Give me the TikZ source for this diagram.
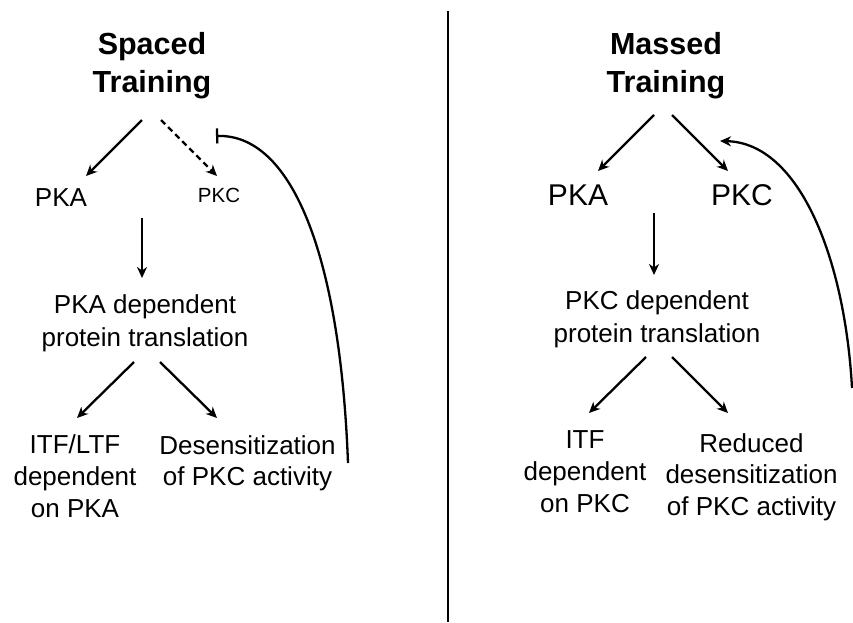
\documentclass[tikz,border=0pt]{standalone}
\usepackage{fontspec}
\setmainfont{Liberation Sans}
\usetikzlibrary{arrows.meta}
\tikzset{
  arr/.style={line width=2.3pt,-{Stealth[length=11pt,width=10pt,inset=3.5pt]}},
  teearr/.style={line width=2.3pt,-{Bar[width=15pt,line width=2.3pt]}},
  title/.style={anchor=base,align=center,inner sep=0pt,font=\fontsize{30.5}{38}\bfseries\selectfont},
  txt/.style={anchor=base,align=center,inner sep=0pt,font=\fontsize{26}{32}\selectfont},
  big/.style={anchor=base,align=center,inner sep=0pt,font=\fontsize{30}{36}\selectfont},
  small/.style={anchor=base,align=center,inner sep=0pt,font=\fontsize{20.5}{25}\selectfont},
}
\begin{document}
\begin{tikzpicture}[x=1pt,y=-1pt]
\useasboundingbox (0,0) rectangle (853,622);
% divider
\draw[line width=2.6pt] (448,11) coordinate (dtop) -- (448,622) coordinate (dbot);

% ---------- left panel ----------
\node[title] (sT) at (152,92) {Spaced\\Training};
\node[txt] (sPKA) at (61,206) {PKA};
\node[small] (sPKC) at (219,202) {PKC};
\node[txt,font=\fontsize{26}{33}\selectfont] (sDep) at (145,346) {PKA dependent\\protein translation};
\node[txt] (sITF) at (75,517) {ITF/LTF\\dependent\\on PKA};
\node[txt,font=\fontsize{26}{31}\selectfont] (sDes) at (247.5,485) {Desensitization\\of PKC activity};

\coordinate (s1a) at (142,120); \coordinate (s1b) at (86,176);
\coordinate (s2a) at (161,120); \coordinate (s2b) at (217,176);
\coordinate (s3a) at (142,218); \coordinate (s3b) at (142,278);
\coordinate (s4a) at (134,362); \coordinate (s4b) at (77,418);
\coordinate (s5a) at (160,362); \coordinate (s5b) at (217,418);
\coordinate (sCa) at (348,463); \coordinate (sCb) at (216,136);

\draw[arr] (s1a) -- (s1b);
\draw[arr,dash pattern=on 6pt off 4pt] (s2a) -- (s2b);
\draw[arr] (s3a) -- (s3b);
\draw[arr] (s4a) -- (s4b);
\draw[arr] (s5a) -- (s5b);
\draw[teearr] (sCa) .. controls (340,250) and (290,134) .. (sCb);

% ---------- right panel ----------
\node[title] (mT) at (666,92) {Massed\\Training};
\node[big] (mPKA) at (578,205) {PKA};
\node[big] (mPKC) at (742,205) {PKC};
\node[txt,font=\fontsize{26}{33}\selectfont] (mDep) at (657,342) {PKC dependent\\protein translation};
\node[txt] (mITF) at (585,512) {ITF\\dependent\\on PKC};
\node[txt,font=\fontsize{26}{31.5}\selectfont] (mRed) at (751.5,515) {Reduced\\desensitization\\of PKC activity};

\coordinate (m1a) at (654,115); \coordinate (m1b) at (598,171);
\coordinate (m2a) at (672,115); \coordinate (m2b) at (728,171);
\coordinate (m3a) at (654,213); \coordinate (m3b) at (654,275);
\coordinate (m4a) at (646,357); \coordinate (m4b) at (589,413);
\coordinate (m5a) at (672,357); \coordinate (m5b) at (728,413);
\coordinate (mCa) at (852,388); \coordinate (mCb) at (720,141);

\draw[arr] (m1a) -- (m1b);
\draw[arr] (m2a) -- (m2b);
\draw[arr] (m3a) -- (m3b);
\draw[arr] (m4a) -- (m4b);
\draw[arr] (m5a) -- (m5b);
\draw[arr] (mCa) .. controls (845,260) and (800,143) .. (mCb);
\end{tikzpicture}
\end{document}
